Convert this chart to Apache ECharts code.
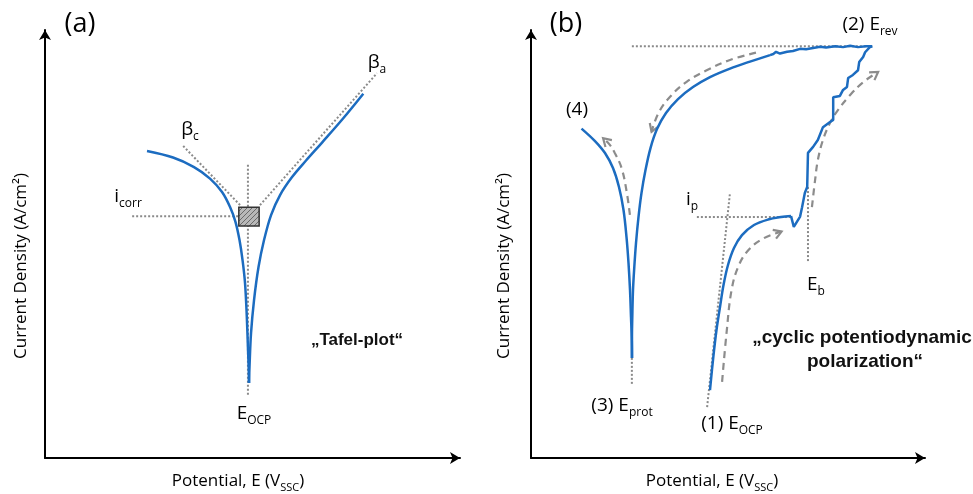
<!DOCTYPE html>
<html><head><meta charset="utf-8">
<script src="https://cdn.jsdelivr.net/npm/echarts@6/dist/echarts.min.js"></script>
<style>html,body{margin:0;padding:0;background:#fff}#c{width:973px;height:494px}</style>
</head><body><div id="c"></div>
<script>
// Schematic values in arbitrary units: potential 0-100 (x), log current density 0-100 (y)

// ---------- Panel (a): Tafel plot ----------
const tafelCathodic = [[24.58,71.72],[30.85,70.20],[35.91,67.98],[39.77,65.29],[42.66,62.14],[44.59,58.63],[45.91,55.13],[46.87,50.92],[47.60,46.25],[48.20,40.88],[48.63,32.94],[48.92,25.23],[49.07,21.26],[49.16,17.52]];
const tafelAnodic = [[49.16,17.52],[49.28,21.26],[49.65,29.20],[50.37,36.91],[51.45,44.62],[52.78,50.92],[54.47,56.76],[56.64,61.44],[59.53,65.64],[62.90,69.50],[66.76,73.70],[71.82,79.31],[76.70,85.10]];
const tafelEocpLine = [[48.9,68.5],[48.9,14.3]];
const tafelIcorrLine = [[21.0,56.5],[47.0,56.5]];
const tafelBetaCLine = [[33.3,72.9],[47.0,59.1]];
const tafelBetaALine = [[51.8,59.1],[80.0,89.9]];
const tafelIcorrBox = [[46.7,58.6,51.6,54.2]];

// ---------- Panel (b): cyclic potentiodynamic polarization ----------
const cpPassiveRise = [[45.43,15.88],[46.27,23.59],[47.08,29.90],[47.97,35.27],[48.86,40.41],[50.00,45.09],[51.52,49.06],[53.55,52.09],[56.60,54.43],[60.15,55.71],[63.45,56.30],[65.99,56.54]];
const cpPittingRise = [[65.99,56.54],[66.7,54.0],[68.3,56.4],[68.8,58.6],[69.5,61.9],[70.1,63.3],[70.3,71.3],[71.6,72.7],[72.8,74.3],[74.1,77.3],[75.9,78.5],[76.7,79.0],[76.7,84.3],[78.4,84.6],[79.2,86.0],[80.2,86.7],[80.5,88.8],[81.7,89.5],[83.0,90.6],[83.3,92.5],[84.3,93.7],[84.8,94.8],[86.0,96.0],[86.6,96.2]];
const cpReverseTop = [[86.6,96.2],[85.0,96.2],[83.0,96.0],[81.0,96.3],[79.2,96.0],[77.2,96.2],[74.9,95.9],[73.4,96.1],[71.6,95.8],[69.8,95.5],[68.3,95.6],[66.5,95.1],[65.0,94.9],[63.2,94.5],[62.2,94.9],[61.5,94.4],[60.66,94.14]];
const cpReverseDown = [[60.66,94.14],[55.58,92.62],[50.51,90.99],[45.43,89.00],[41.12,86.67],[37.31,83.86],[34.26,80.59],[31.98,76.85],[30.33,72.42],[29.06,67.28],[28.04,61.90],[27.28,56.30],[26.65,50.22],[26.22,44.62],[25.89,39.24],[25.71,32.94],[25.63,28.27],[25.63,23.36]];
const cpCathodicUp = [[25.63,23.36],[25.56,28.27],[25.38,32.94],[25.13,39.24],[24.75,45.55],[24.24,51.63],[23.48,57.93],[22.33,63.31],[20.81,67.74],[18.78,71.25],[16.24,74.05],[12.82,76.97]];
const cpErevLine = [[25.6,96.2],[86.6,96.2]];
const cpIpLine = [[42.1,56.3],[66.5,56.3]];
const cpTangentLine = [[44.7,11.9],[50.5,61.9]];
const cpEbLine = [[70.3,63.3],[70.3,45.6]];
const cpEprotLine = [[25.6,23.4],[25.6,17.1]];
const arrowForward = [[48.5,17.8],[49.7,29.9],[50.9,39.2],[52.6,44.7],[55.2,48.6],[59.0,51.3],[63.6,52.9]];
const arrowPitting = [[71.3,58.6],[72.1,64.9],[72.8,69.6],[74.1,74.3],[75.9,78.3],[77.9,81.3],[81.0,84.8],[84.3,87.8],[88.1,90.2]];
const arrowReverse = [[57.1,94.7],[50.5,93.0],[44.6,90.6],[39.5,87.9],[35.3,84.4],[32.3,80.5],[30.6,76.2]];
const arrowCathodic = [[25.1,56.8],[24.3,62.1],[23.0,67.7],[21.3,71.2],[19.8,73.4],[18.3,74.7]];

const F = "'Open Sans', 'DejaVu Sans', sans-serif";
const TXT = '#3c3c3c';
const BLUE = '#1c6cc0';
const DOT = '#8a8a8a';
const DASH = '#8c8c8c';

const rich = {
  n: {fontFamily: F, fontSize: 19, color: TXT, lineHeight: 26},
  s: {fontFamily: F, fontSize: 12, color: TXT, lineHeight: 12, verticalAlign: 'bottom'}
};
const axRich = {
  n: {fontFamily: F, fontSize: 17, color: TXT, lineHeight: 24},
  s: {fontFamily: F, fontSize: 11, color: TXT, lineHeight: 11, verticalAlign: 'bottom'}
};

// hatch pattern for the i_corr box
const pc = document.createElement('canvas');
pc.width = 5; pc.height = 5;
const g = pc.getContext('2d');
g.fillStyle = '#b8b8b8'; g.fillRect(0, 0, 5, 5);
g.strokeStyle = '#6a6a6a'; g.lineWidth = 1;
g.beginPath(); g.moveTo(0, 5); g.lineTo(5, 0); g.moveTo(-1, 1); g.lineTo(1, -1); g.moveTo(4, 6); g.lineTo(6, 4); g.stroke();

function mkAxis(i) {
  return {
    type: 'value', min: 0, max: 100, gridIndex: i,
    axisTick: {show: false}, axisLabel: {show: false}, splitLine: {show: false},
    axisLine: {show: true, onZero: false, symbol: ['none', 'arrow'], symbolSize: [9, 10], lineStyle: {color: '#000', width: 2}}
  };
}

function line(data, gi, color, opts) {
  return Object.assign({type: 'line', data: data, xAxisIndex: gi, yAxisIndex: gi, showSymbol: false, symbol: 'none', silent: true,
    lineStyle: {color: color, width: 2.5}, z: 3}, opts || {});
}
function dotted(data, gi) {
  return line(data, gi, DOT, {lineStyle: {color: DOT, width: 2, type: [2, 2]}, z: 2});
}
function dashedArrow(data, gi) {
  return [
    line(data, gi, DASH, {smooth: 0.4, lineStyle: {color: DASH, width: 2.2, type: [7, 5]}, z: 2}),
    {type: 'custom', xAxisIndex: gi, yAxisIndex: gi, silent: true, z: 2,
     data: [data[data.length - 1]],
     renderItem: function (params, api) {
       const p = api.coord(data[data.length - 1]);
       const q = api.coord(data[data.length - 2]);
       const ang = Math.atan2(p[1] - q[1], p[0] - q[0]);
       const L = 9, w = 0.55;
       const l1 = [p[0] - L * Math.cos(ang - w), p[1] - L * Math.sin(ang - w)];
       const l2 = [p[0] - L * Math.cos(ang + w), p[1] - L * Math.sin(ang + w)];
       return {type: 'polyline', shape: {points: [l1, p, l2]}, style: {stroke: DASH, lineWidth: 2.2, fill: null}};
     }}
  ];
}

function label(x, y, text, extra, r) {
  return {type: 'text', x: x, y: y, z: 10, rotation: r || 0,
    style: Object.assign({text: text, rich: rich, align: 'center', verticalAlign: 'middle'}, extra || {})};
}
function boldLabel(x, y, text, size) {
  return {type: 'text', x: x, y: y, z: 10,
    style: {text: text, font: 'bold ' + size + "px 'Liberation Sans', Arial, sans-serif", fill: '#111', align: 'center', verticalAlign: 'middle'}};
}

const series = [
  dotted(tafelEocpLine, 0), dotted(tafelIcorrLine, 0), dotted(tafelBetaCLine, 0), dotted(tafelBetaALine, 0),
  line(tafelCathodic, 0, BLUE, {smooth: 0.35}),
  line(tafelAnodic, 0, BLUE, {smooth: 0.35}),
  {type: 'custom', xAxisIndex: 0, yAxisIndex: 0, silent: true, z: 5, data: tafelIcorrBox,
   renderItem: function (params, api) {
     const p1 = api.coord([api.value(0), api.value(1)]);
     const p2 = api.coord([api.value(2), api.value(3)]);
     return {type: 'rect', shape: {x: p1[0], y: p1[1], width: p2[0] - p1[0], height: p2[1] - p1[1]},
       style: {fill: {image: pc, repeat: 'repeat'}, stroke: '#333', lineWidth: 1.5}};
   }},
  dotted(cpErevLine, 1), dotted(cpIpLine, 1), dotted(cpTangentLine, 1), dotted(cpEbLine, 1), dotted(cpEprotLine, 1),
  line(cpPassiveRise, 1, BLUE, {smooth: 0.35}),
  line(cpPittingRise, 1, BLUE),
  line(cpReverseTop, 1, BLUE),
  line(cpReverseDown, 1, BLUE, {smooth: 0.35}),
  line(cpCathodicUp, 1, BLUE, {smooth: 0.35})
].concat(dashedArrow(arrowForward, 1), dashedArrow(arrowPitting, 1), dashedArrow(arrowReverse, 1), dashedArrow(arrowCathodic, 1));

const xName = '{n|Potential, E (V}{s|SSC}{n|)}';
const yName = '{n|Current Density (A/cm²)}';

const chart = echarts.init(document.getElementById('c'), null, {renderer: 'canvas'});
chart.setOption({
  animation: false,
  backgroundColor: '#fff',
  grid: [
    {left: 45, top: 30, width: 415, height: 428},
    {left: 531, top: 30, width: 394, height: 428}
  ],
  xAxis: [mkAxis(0), mkAxis(1)],
  yAxis: [mkAxis(0), mkAxis(1)],
  series: series,
  graphic: [
    label(238, 481, xName, {rich: axRich}),
    label(712, 481, xName, {rich: axRich}),
    label(21, 266, yName, {rich: axRich}, Math.PI / 2),
    label(504, 266, yName, {rich: axRich}, Math.PI / 2),
    label(80, 24, '{p|(a)}', {rich: {p: {fontFamily: F, fontSize: 27, color: TXT}}}),
    label(377, 63, '{n|β}{s|a}'),
    label(190, 130, '{n|β}{s|c}'),
    label(128, 197, '{n|i}{s|corr}'),
    label(254, 414, '{n|E}{s|OCP}'),
    boldLabel(357, 340, '„Tafel-plot“', 17),
    label(566, 24, '{p|(b)}', {rich: {p: {fontFamily: F, fontSize: 27, color: TXT}}}),
    label(870, 25, '{n|(2) E}{s|rev}'),
    label(577, 110, '{n|(4)}'),
    label(692, 200, '{n|i}{s|p}'),
    label(816, 285, '{n|E}{s|b}'),
    label(622, 406, '{n|(3) E}{s|prot}'),
    label(732, 424, '{n|(1) E}{s|OCP}'),
    boldLabel(862, 338, '„cyclic potentiodynamic', 19),
    boldLabel(865, 362, 'polarization“', 19)
  ]
});
</script></body></html>
